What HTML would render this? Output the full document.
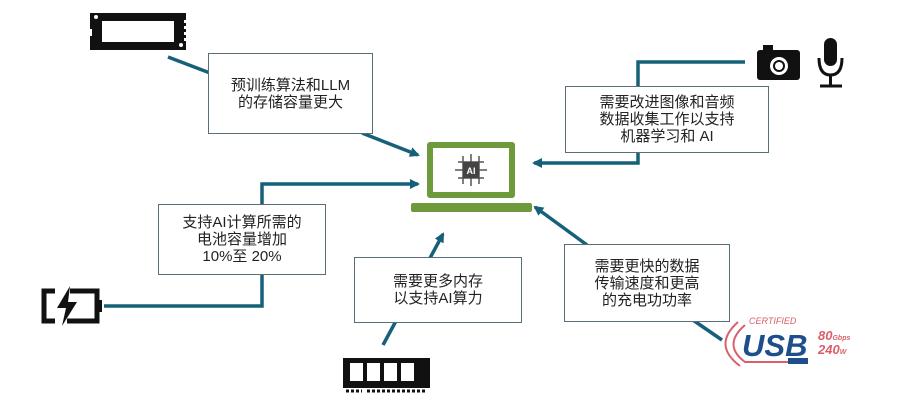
<!DOCTYPE html>
<html><head><meta charset="utf-8"><style>
body{margin:0;width:911px;height:420px;background:#fff;overflow:hidden;position:relative;font-family:"Liberation Sans","Noto Sans CJK SC",sans-serif}
.b{position:absolute;border:1px solid #5a6e78;background:#fff;display:flex;align-items:center;justify-content:center;text-align:center;font-size:15px;line-height:17px;color:#222}
svg{position:absolute;left:0;top:0}
</style></head><body>
<svg width="911" height="420">
<defs><marker id="a" markerWidth="10" markerHeight="10" refX="8" refY="5" orient="auto" markerUnits="userSpaceOnUse"><path d="M0,0 L10,5 L0,10 z" fill="#17607a"/></marker></defs>
<g stroke="#17607a" stroke-width="3.5" fill="none">
<line x1="168" y1="57" x2="210" y2="73"/>
<line x1="362" y1="133" x2="418" y2="155" marker-end="url(#a)"/>
<polyline points="745,62 638,62 638,88"/>
<polyline points="638,152 638,163 534,163" marker-end="url(#a)"/>
<polyline points="262,206 262,184 418,184" marker-end="url(#a)"/>
<polyline points="262,274 262,306 104,306"/>
<line x1="383" y1="345" x2="443" y2="234" marker-end="url(#a)"/>
<line x1="587" y1="245" x2="535" y2="207" marker-end="url(#a)"/>
<line x1="690" y1="318" x2="722" y2="340"/>
</g>
<!-- laptop -->
<rect x="427" y="142" width="88" height="56" rx="3" fill="#6e9a3c"/>
<rect x="433" y="148" width="76" height="44" fill="#fff"/>
<rect x="411" y="203" width="121" height="9" rx="2" fill="#6e9a3c"/>
<g stroke="#555" stroke-width="1.5">
<line x1="455" y1="170" x2="487" y2="170"/><line x1="471" y1="154" x2="471" y2="186"/>
<line x1="458" y1="162" x2="484" y2="162"/><line x1="458" y1="178" x2="484" y2="178"/>
<line x1="463" y1="156" x2="463" y2="184"/><line x1="479" y1="156" x2="479" y2="184"/>
</g>
<rect x="463" y="162" width="16" height="16" fill="#444"/>
<text x="471" y="174" font-size="9" font-weight="bold" fill="#fff" text-anchor="middle" font-family="Liberation Sans">AI</text>
<!-- SSD -->
<rect x="90" y="13" width="96" height="37" fill="#111"/>
<rect x="102" y="21" width="72" height="21" fill="#fff"/>
<rect x="88" y="29" width="4" height="7" fill="#fff"/>
<g fill="#fff"><rect x="184" y="20" width="2" height="3"/><rect x="184" y="26" width="2" height="3"/><rect x="184" y="32" width="2" height="3"/><rect x="184" y="38" width="2" height="3"/></g>
<circle cx="96" cy="17" r="2" fill="#fff"/><circle cx="181" cy="45" r="2" fill="#fff"/>
<!-- camera -->
<rect x="757" y="50" width="43" height="30" rx="3" fill="#111"/>
<rect x="763" y="45" width="10" height="6" fill="#111"/>
<circle cx="779" cy="66" r="9" fill="#fff"/><circle cx="779" cy="66" r="6" fill="#111"/><circle cx="779" cy="66" r="4" fill="#fff"/>
<!-- mic -->
<rect x="824" y="38" width="13" height="28" rx="6.5" fill="#111"/>
<path d="M819,58 Q819,75 830.5,75 Q842,75 842,58" stroke="#111" stroke-width="3" fill="none"/>
<line x1="830.5" y1="75" x2="830.5" y2="85" stroke="#111" stroke-width="3"/>
<line x1="820" y1="86" x2="842" y2="86" stroke="#111" stroke-width="3"/>
<!-- battery -->
<path d="M55,291 H44 V321 H55 M70,291 H97 V321 H67" stroke="#111" stroke-width="5" fill="none"/>
<rect x="97" y="300" width="5" height="12" fill="#111"/>
<path d="M70,286 L57,308 H66 L62,326 L77,302 H68 Z" fill="#111"/>
<!-- RAM -->
<rect x="343" y="358" width="87" height="30" fill="#111"/>
<g fill="#fff"><rect x="350" y="363" width="13" height="18"/><rect x="367" y="363" width="13" height="18"/><rect x="384" y="363" width="13" height="18"/><rect x="401" y="363" width="13" height="18"/></g>
<path d="M346,391 h16 M367,391 h60" stroke="#111" stroke-width="3" stroke-dasharray="3,2"/>
<!-- USB -->
<path d="M745,325 Q722,345 745,362 L795,362" stroke="#d9606a" stroke-width="2" fill="none"/>
<path d="M738,322 Q712,345 740,366" stroke="#d9606a" stroke-width="2" fill="none"/>
<text x="749" y="324" font-size="9" font-style="italic" fill="#d9606a" font-family="Liberation Sans">CERTIFIED</text>
<text x="742" y="356" font-size="31" font-weight="bold" font-style="italic" fill="#1c4f8c" font-family="Liberation Sans">USB</text>
<rect x="788" y="358" width="20" height="6" fill="#1c4f8c"/>
<text x="818" y="340" font-size="13" font-weight="bold" font-style="italic" fill="#d9606a" font-family="Liberation Sans">80<tspan font-size="7">Gbps</tspan></text>
<text x="818" y="354" font-size="13" font-weight="bold" font-style="italic" fill="#d9606a" font-family="Liberation Sans">240<tspan font-size="7">W</tspan></text>
</svg>
<div class="b" style="left:208px;top:53px;width:163px;height:79px">预训练算法和LLM<br>的存储容量更大</div>
<div class="b" style="left:565px;top:86px;width:202px;height:65px">需要改进图像和音频<br>数据收集工作以支持<br>机器学习和 AI</div>
<div class="b" style="left:158px;top:204px;width:166px;height:69px">支持AI计算所需的<br>电池容量增加<br>10%至 20%</div>
<div class="b" style="left:354px;top:257px;width:166px;height:64px">需要更多内存<br>以支持AI算力</div>
<div class="b" style="left:564px;top:244px;width:164px;height:76px">需要更快的数据<br>传输速度和更高<br>的充电功功率</div>
</body></html>
